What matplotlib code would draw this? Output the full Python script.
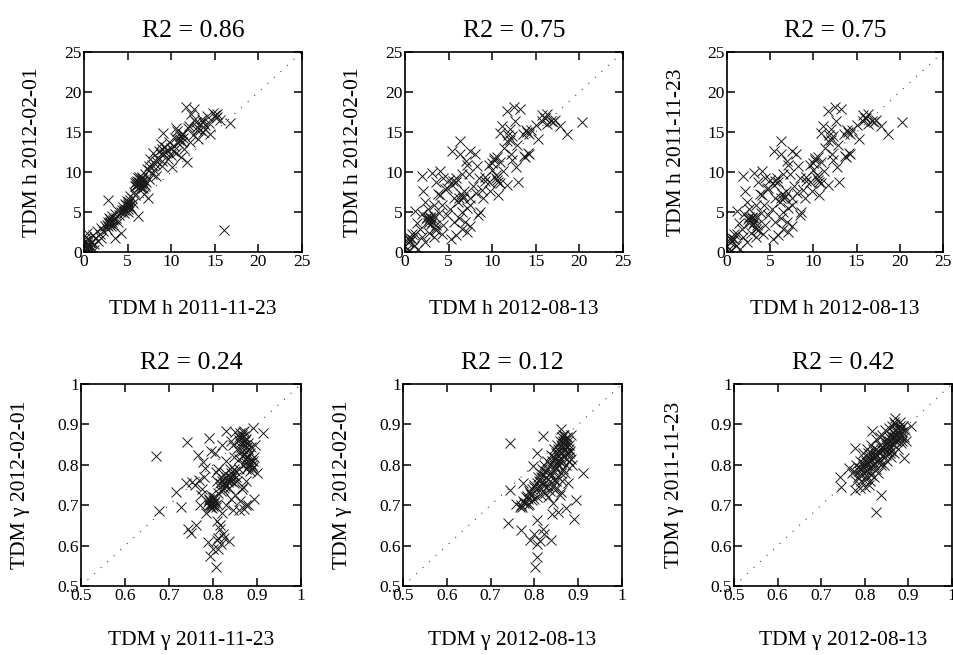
import numpy as np
import matplotlib
matplotlib.use("Agg")
import matplotlib.pyplot as plt

plt.rcParams['font.family'] = ['Liberation Serif', 'DejaVu Serif']

# TDM h : 2011-11-23 (x) vs 2012-02-01 (y)
h_nov_feb = [
    (0.1, 0.2), (0.2, 0.8), (0.3, 1.2), (0.4, 0.4), (0.5, 1.6), (0.6, 0.9), (0.2, 1.9), (0.8, 0.6),
    (0.9, 1.3), (1.0, 2.1), (0.7, 0.1), (1.2, 1.0), (1.3, 1.8), (1.5, 2.6), (1.1, 0.3), (0.3, 2.4),
    (1.6, 1.4), (1.8, 2.2), (2.0, 3.0), (1.9, 1.7), (2.2, 2.6), (2.4, 3.3), (2.6, 2.9), (2.7, 3.8),
    (2.8, 6.5), (2.9, 4.2), (3.0, 3.6), (3.1, 3.9), (3.2, 4.5), (3.3, 3.4), (3.4, 4.1), (3.5, 4.8),
    (3.6, 1.8), (3.7, 4.3), (3.8, 5.2), (3.9, 3.7), (4.0, 4.6), (4.2, 2.4), (4.3, 5.0), (4.5, 5.6),
    (4.6, 4.9), (4.7, 6.0), (4.8, 5.3), (4.9, 6.4), (5.0, 5.7), (5.1, 5.0), (5.2, 6.2), (5.3, 7.0),
    (5.4, 5.5), (5.5, 6.8), (5.6, 6.1), (5.7, 7.5), (5.8, 8.2), (5.9, 7.1), (6.0, 8.8), (6.1, 8.4),
    (6.2, 4.5), (6.2, 9.2), (6.3, 8.6), (6.4, 9.0), (6.5, 8.3), (6.6, 8.9), (6.7, 9.4), (6.8, 8.0),
    (6.9, 7.2), (7.0, 9.7), (7.1, 8.7), (7.2, 10.4), (7.3, 6.8), (7.4, 9.1), (7.5, 10.8), (7.6, 11.6),
    (7.8, 9.8), (7.9, 12.4), (8.0, 10.2), (8.1, 11.0), (8.3, 9.5), (8.4, 11.8), (8.6, 12.6), (8.8, 13.5),
    (8.9, 10.8), (9.0, 11.4), (9.1, 14.9), (9.2, 12.2), (9.3, 13.1), (9.5, 12.7), (9.6, 11.6), (9.8, 13.8),
    (10.0, 12.1), (10.1, 10.6), (10.3, 13.2), (10.4, 14.3), (10.6, 12.4), (10.7, 15.1), (10.8, 13.6),
    (11.0, 14.1), (11.1, 11.9), (11.2, 14.8), (11.3, 14.2), (11.5, 12.9), (11.7, 18.1), (11.8, 11.2),
    (11.9, 15.5), (12.1, 13.8), (12.3, 17.2), (12.5, 14.6), (12.6, 17.9), (12.8, 16.2), (13.0, 15.2),
    (13.1, 14.1), (13.3, 16.0), (13.5, 16.6), (13.7, 15.0), (13.9, 15.4), (14.1, 17.0), (14.3, 16.1),
    (14.5, 14.7), (14.8, 17.4), (15.1, 16.8), (15.2, 17.3), (15.6, 16.5), (16.1, 2.8), (16.7, 16.1),
    (12.0, 15.8), (10.5, 15.5), (6.3, 8.8), (6.5, 9.1), (6.6, 8.5), (6.4, 8.6), (6.7, 8.8), (6.1, 8.9),
    (5.0, 6.0), (5.1, 6.3), (4.9, 5.8), (3.0, 3.8), (3.2, 3.7), (2.9, 3.5),
    (6.2, 8.5), (6.4, 8.2), (6.6, 9.3), (6.8, 9.0), (6.0, 8.2), (6.9, 8.5), (5.9, 8.6), (6.5, 8.0),
    (7.0, 8.4), (6.3, 9.4), (4.8, 5.9), (5.0, 5.4), (5.2, 5.8), (4.6, 5.2), (5.3, 6.5), (4.4, 5.2),
    (2.8, 3.3), (3.1, 3.3), (3.3, 4.0), (2.6, 3.4), (3.0, 4.1), (0.2, 0.5), (0.4, 1.0), (0.1, 1.4),
    (0.6, 0.4), (0.3, 0.1), (0.8, 1.1), (0.5, 0.7), (11.0, 14.5), (11.2, 13.8), (11.3, 14.7),
    (10.9, 14.0), (13.0, 15.6), (13.3, 15.3), (13.6, 16.2), (15.0, 17.1), (15.3, 16.9), (12.6, 16.5),
    (13.9, 15.9), (8.8, 12.2), (9.3, 12.5), (9.0, 12.9), (7.8, 10.9), (8.2, 11.4), (7.5, 10.3),
    (10.0, 13.0), (10.2, 12.6),
]

# TDM h : 2012-08-13 (x) vs other date (y)
h_aug = [
    (20.3, 16.3), (18.6, 14.8), (17.2, 16.5), (15.7, 17.1), (16.3, 16.0), (17.8, 15.8), (15.3, 14.1),
    (14.0, 15.0), (14.2, 12.2), (13.0, 8.8), (12.5, 18.1), (13.2, 17.9), (11.7, 17.6), (12.6, 16.4),
    (11.1, 15.8), (10.9, 14.9), (11.7, 13.9), (12.8, 13.4), (12.1, 12.2), (10.2, 11.8), (10.9, 11.3),
    (9.6, 10.9), (10.5, 9.0), (10.9, 8.6), (11.7, 8.4), (10.7, 7.1), (9.0, 6.7), (8.6, 5.0), (9.6, 8.8),
    (8.0, 12.2), (7.5, 12.6), (6.3, 13.9), (5.4, 12.6), (6.3, 12.2), (7.1, 10.9), (6.5, 9.7), (5.9, 8.8),
    (5.4, 8.4), (4.4, 9.2), (4.0, 10.1), (1.9, 9.5), (3.1, 9.9), (3.6, 8.8), (5.6, 6.7), (6.1, 6.3),
    (7.5, 6.7), (7.5, 5.9), (8.4, 4.6), (7.1, 5.5), (6.5, 5.0), (4.8, 8.0), (4.0, 7.1), (2.1, 7.6),
    (2.3, 6.3), (3.3, 5.9), (4.8, 4.6), (4.4, 3.4), (5.6, 3.8), (6.5, 2.9), (7.5, 3.2), (7.1, 2.5),
    (5.9, 2.1), (2.9, 4.2), (3.1, 3.8), (2.5, 4.4), (3.5, 3.4), (1.7, 2.9), (1.1, 2.3), (0.6, 1.7),
    (1.0, 0.8), (1.5, 0.4), (0.4, 1.3), (2.3, 1.3), (3.3, 1.9), (3.6, 2.7), (1.9, 1.9), (0.2, 0.4),
    (0.8, 2.3), (12.0, 15.4), (13.5, 14.8), (14.5, 15.2), (16.0, 16.8), (16.8, 16.4), (15.0, 15.9),
    (11.4, 13.0), (12.3, 11.5), (13.6, 12.0), (10.0, 10.3), (10.4, 9.6), (9.2, 9.4), (8.5, 9.3),
    (8.8, 7.8), (8.1, 7.4), (7.8, 8.3), (6.8, 7.6), (6.6, 6.8), (7.3, 9.8), (5.0, 9.0), (4.6, 7.9),
    (3.8, 7.2), (2.6, 5.4), (2.0, 4.8), (1.4, 3.6), (3.9, 4.9), (4.2, 2.2), (6.2, 4.2), (5.2, 5.4),
    (9.8, 7.6), (11.2, 10.1), (12.7, 10.6), (8.2, 10.8), (7.0, 11.4), (4.3, 5.9), (1.2, 5.1),
    (0.5, 0.2), (2.8, 2.4), (3.4, 2.9), (5.3, 1.6), (6.9, 3.7),
    (2.7, 4.0), (2.9, 4.4), (3.2, 4.1), (2.6, 3.6), (3.0, 3.5), (2.4, 4.1), (3.3, 4.5), (0.6, 1.4),
    (0.8, 1.6), (0.4, 1.8), (10.2, 11.5), (10.5, 11.9), (10.0, 11.1), (12.0, 14.0), (12.3, 14.5),
    (11.8, 14.6), (14.2, 14.8), (13.9, 15.3), (13.8, 11.9), (14.1, 12.4), (10.4, 9.2), (10.7, 8.8),
    (6.4, 7.2), (6.7, 7.0), (6.2, 6.8), (9.2, 8.9), (5.5, 8.9), (5.8, 9.2), (16.1, 16.7), (16.3, 17.2),
    (15.7, 16.4), (17.0, 16.2),
]

# TDM gamma : 2011-11-23 (x) vs 2012-02-01 (y)
g_nov_feb = [
    (0.671, 0.823), (0.677, 0.685), (0.741, 0.856), (0.715, 0.732), (0.728, 0.696), (0.739, 0.754),
    (0.753, 0.758), (0.743, 0.642), (0.750, 0.632), (0.762, 0.650), (0.766, 0.825), (0.777, 0.808),
    (0.792, 0.867), (0.773, 0.725), (0.788, 0.608), (0.800, 0.592), (0.794, 0.575), (0.806, 0.548),
    (0.811, 0.592), (0.822, 0.629), (0.837, 0.612), (0.815, 0.650), (0.845, 0.688), (0.860, 0.688),
    (0.875, 0.700), (0.894, 0.715), (0.868, 0.746), (0.913, 0.879), (0.890, 0.892), (0.871, 0.883),
    (0.830, 0.883), (0.845, 0.850), (0.796, 0.833), (0.807, 0.783), (0.769, 0.763), (0.781, 0.792),
    (0.790, 0.700), (0.795, 0.705), (0.800, 0.698), (0.805, 0.710), (0.792, 0.715), (0.798, 0.692),
    (0.803, 0.720), (0.788, 0.708), (0.808, 0.702), (0.796, 0.725), (0.801, 0.712), (0.793, 0.695),
    (0.815, 0.745), (0.820, 0.760), (0.825, 0.752), (0.830, 0.770), (0.835, 0.765), (0.840, 0.780),
    (0.845, 0.775), (0.822, 0.738), (0.828, 0.748), (0.833, 0.758), (0.838, 0.790), (0.812, 0.730),
    (0.818, 0.770), (0.842, 0.760), (0.850, 0.785), (0.827, 0.780), (0.836, 0.742), (0.847, 0.755),
    (0.853, 0.770), (0.817, 0.755), (0.860, 0.870), (0.865, 0.875), (0.870, 0.860), (0.862, 0.855),
    (0.868, 0.880), (0.875, 0.865), (0.858, 0.862), (0.872, 0.850), (0.880, 0.840), (0.885, 0.830),
    (0.878, 0.820), (0.890, 0.810), (0.882, 0.800), (0.888, 0.790), (0.876, 0.805), (0.870, 0.825),
    (0.865, 0.835), (0.860, 0.815), (0.884, 0.785), (0.892, 0.795), (0.874, 0.790), (0.868, 0.800),
    (0.880, 0.855), (0.886, 0.845), (0.894, 0.820), (0.864, 0.845), (0.808, 0.760), (0.812, 0.790),
    (0.805, 0.830), (0.820, 0.850), (0.840, 0.860), (0.850, 0.880), (0.855, 0.840), (0.848, 0.820),
    (0.830, 0.810), (0.860, 0.790), (0.855, 0.760), (0.865, 0.740), (0.850, 0.725), (0.840, 0.715),
    (0.830, 0.700), (0.820, 0.680), (0.810, 0.660), (0.815, 0.640), (0.825, 0.620), (0.780, 0.770),
    (0.775, 0.740), (0.785, 0.680), (0.770, 0.700), (0.760, 0.750), (0.880, 0.700), (0.870, 0.690),
    (0.900, 0.780), (0.895, 0.850), (0.875, 0.760), (0.862, 0.710),
    (0.797, 0.703), (0.802, 0.706), (0.791, 0.712), (0.806, 0.696), (0.799, 0.718), (0.794, 0.701),
    (0.866, 0.868), (0.870, 0.872), (0.862, 0.878), (0.873, 0.858), (0.878, 0.845), (0.882, 0.825),
    (0.887, 0.812), (0.884, 0.805), (0.879, 0.795), (0.889, 0.800), (0.874, 0.815), (0.866, 0.822),
    (0.828, 0.756), (0.832, 0.762), (0.838, 0.770), (0.843, 0.768), (0.826, 0.742), (0.848, 0.790),
    (0.818, 0.735), (0.823, 0.765), (0.812, 0.620), (0.818, 0.605), (0.808, 0.615),
]

# TDM gamma : 2012-08-13 (x) vs 2012-02-01 (y)
g_aug_feb = [
    (0.745, 0.854), (0.745, 0.738), (0.757, 0.704), (0.739, 0.657), (0.770, 0.638), (0.791, 0.613),
    (0.799, 0.629), (0.807, 0.571), (0.802, 0.546), (0.819, 0.642), (0.823, 0.629), (0.838, 0.613),
    (0.807, 0.663), (0.819, 0.871), (0.860, 0.888), (0.884, 0.875), (0.911, 0.779), (0.896, 0.713),
    (0.890, 0.667), (0.873, 0.692), (0.853, 0.683), (0.841, 0.679), (0.861, 0.733), (0.876, 0.754),
    (0.796, 0.796), (0.807, 0.829), (0.774, 0.754), (0.767, 0.696),
    (0.770, 0.700), (0.775, 0.710), (0.780, 0.720), (0.785, 0.715), (0.790, 0.730), (0.795, 0.740),
    (0.800, 0.745), (0.805, 0.755), (0.810, 0.760), (0.815, 0.770), (0.820, 0.775), (0.825, 0.785),
    (0.830, 0.790), (0.835, 0.800), (0.840, 0.810), (0.845, 0.820), (0.850, 0.830), (0.855, 0.840),
    (0.860, 0.850), (0.865, 0.860), (0.870, 0.865), (0.875, 0.870), (0.870, 0.840), (0.875, 0.830),
    (0.880, 0.820), (0.878, 0.810), (0.872, 0.800), (0.865, 0.790), (0.860, 0.780), (0.855, 0.770),
    (0.850, 0.760), (0.845, 0.750), (0.840, 0.745), (0.835, 0.735), (0.825, 0.730), (0.815, 0.725),
    (0.805, 0.720), (0.800, 0.715), (0.810, 0.745), (0.820, 0.750), (0.830, 0.765), (0.840, 0.775),
    (0.850, 0.790), (0.860, 0.805), (0.868, 0.820), (0.880, 0.850), (0.882, 0.835), (0.876, 0.860),
    (0.866, 0.875), (0.862, 0.870), (0.858, 0.860), (0.852, 0.850), (0.845, 0.840), (0.838, 0.825),
    (0.828, 0.810), (0.822, 0.800), (0.818, 0.790), (0.812, 0.780), (0.808, 0.770), (0.798, 0.750),
    (0.788, 0.735), (0.780, 0.705), (0.772, 0.695), (0.785, 0.700), (0.795, 0.712), (0.815, 0.740),
    (0.835, 0.760), (0.855, 0.800), (0.874, 0.845), (0.884, 0.815), (0.886, 0.800), (0.870, 0.780),
    (0.862, 0.760), (0.850, 0.740), (0.830, 0.720), (0.843, 0.705), (0.858, 0.725),
    (0.853, 0.825), (0.857, 0.835), (0.848, 0.815), (0.862, 0.845), (0.866, 0.855), (0.871, 0.858),
    (0.873, 0.848), (0.868, 0.838), (0.863, 0.828), (0.858, 0.818), (0.852, 0.805), (0.847, 0.798),
    (0.842, 0.788), (0.836, 0.778), (0.826, 0.770), (0.818, 0.758), (0.806, 0.742), (0.792, 0.725),
    (0.784, 0.722), (0.776, 0.705), (0.868, 0.875), (0.878, 0.838), (0.880, 0.828), (0.856, 0.812),
    (0.844, 0.762), (0.832, 0.748), (0.826, 0.745), (0.787, 0.703), (0.812, 0.612), (0.805, 0.604),
]

# TDM gamma : 2012-08-13 (x) vs 2011-11-23 (y)
g_aug_nov = [
    (0.825, 0.684), (0.838, 0.725), (0.746, 0.746), (0.742, 0.771), (0.777, 0.738), (0.790, 0.742),
    (0.763, 0.792), (0.778, 0.842), (0.817, 0.883), (0.869, 0.917), (0.905, 0.896), (0.890, 0.817),
    (0.886, 0.858),
    (0.775, 0.785), (0.780, 0.800), (0.785, 0.795), (0.790, 0.810), (0.795, 0.805), (0.800, 0.815),
    (0.805, 0.800), (0.810, 0.820), (0.815, 0.830), (0.820, 0.825), (0.825, 0.840), (0.830, 0.835),
    (0.835, 0.850), (0.840, 0.845), (0.845, 0.860), (0.850, 0.855), (0.855, 0.870), (0.860, 0.865),
    (0.865, 0.880), (0.870, 0.875), (0.875, 0.890), (0.880, 0.885), (0.885, 0.880), (0.878, 0.870),
    (0.872, 0.860), (0.866, 0.850), (0.858, 0.845), (0.850, 0.835), (0.842, 0.825), (0.835, 0.815),
    (0.828, 0.810), (0.820, 0.800), (0.812, 0.795), (0.805, 0.785), (0.798, 0.780), (0.790, 0.775),
    (0.795, 0.830), (0.805, 0.840), (0.815, 0.850), (0.825, 0.865), (0.840, 0.875), (0.855, 0.890),
    (0.862, 0.895), (0.870, 0.900), (0.880, 0.905), (0.888, 0.895), (0.890, 0.870), (0.882, 0.855),
    (0.876, 0.840), (0.868, 0.830), (0.860, 0.820), (0.850, 0.810), (0.838, 0.800), (0.826, 0.790),
    (0.815, 0.775), (0.802, 0.765), (0.792, 0.760), (0.785, 0.770), (0.800, 0.800), (0.810, 0.810),
    (0.822, 0.818), (0.832, 0.828), (0.845, 0.840), (0.855, 0.850), (0.865, 0.865), (0.874, 0.878),
    (0.884, 0.892), (0.846, 0.885), (0.836, 0.870), (0.818, 0.840), (0.808, 0.828), (0.812, 0.760),
    (0.820, 0.770), (0.830, 0.780), (0.845, 0.800), (0.860, 0.835), (0.868, 0.905), (0.892, 0.885),
    (0.895, 0.860), (0.770, 0.780), (0.780, 0.760), (0.800, 0.745), (0.810, 0.750), (0.795, 0.790),
    (0.804, 0.772),
    (0.838, 0.838), (0.842, 0.842), (0.848, 0.848), (0.852, 0.860), (0.856, 0.858), (0.862, 0.872),
    (0.866, 0.870), (0.872, 0.885), (0.876, 0.882), (0.880, 0.895), (0.828, 0.822), (0.824, 0.828),
    (0.818, 0.818), (0.814, 0.812), (0.808, 0.805), (0.802, 0.808), (0.796, 0.798), (0.790, 0.792),
    (0.786, 0.785), (0.852, 0.842), (0.862, 0.855), (0.870, 0.868), (0.878, 0.878), (0.884, 0.870),
    (0.874, 0.865), (0.858, 0.830), (0.848, 0.825), (0.834, 0.808), (0.822, 0.805), (0.812, 0.785),
]

r2_values = [0.86, 0.75, 0.75, 0.24, 0.12, 0.42]
x_labels = ['TDM h 2011-11-23', 'TDM h 2012-08-13', 'TDM h 2012-08-13',
            'TDM γ 2011-11-23', 'TDM γ 2012-08-13', 'TDM γ 2012-08-13']
y_labels = ['TDM h 2012-02-01', 'TDM h 2012-02-01', 'TDM h 2011-11-23',
            'TDM γ 2012-02-01', 'TDM γ 2012-02-01', 'TDM γ 2011-11-23']
panels = [h_nov_feb, h_aug, h_aug, g_nov_feb, g_aug_feb, g_aug_nov]

h_ticks = [0, 5, 10, 15, 20, 25]
g_ticks = [0.5, 0.6, 0.7, 0.8, 0.9, 1]
g_ticklabels = ['0.5', '0.6', '0.7', '0.8', '0.9', '1']

W, H = 954, 655
fig = plt.figure(figsize=(W / 100, H / 100), dpi=100)

# pixel boxes (left, top, width, height)
boxes = [(84, 52, 218, 200), (405, 52, 218, 200), (727, 52, 216, 200),
         (81, 384, 220, 202), (403, 384, 219, 202), (734, 384, 218, 202)]

for i, (l, t, w, h) in enumerate(boxes):
    ax = fig.add_axes([l / W, 1 - (t + h) / H, w / W, h / H])
    pts = np.array(panels[i])
    if i < 3:
        lo, hi, ticks, tlabels = 0, 25, h_ticks, [str(v) for v in h_ticks]
    else:
        lo, hi, ticks, tlabels = 0.5, 1, g_ticks, g_ticklabels

    ax.plot([lo, hi], [lo, hi], color='#444444', lw=0.8, ls=(0, (1, 7)), zorder=1)
    ax.plot(pts[:, 0], pts[:, 1], 'x', color='#1a1a1a', ms=7.8, mew=0.7, zorder=2)

    ax.set_xlim(lo, hi)
    ax.set_ylim(lo, hi)
    ax.set_xticks(ticks)
    ax.set_yticks(ticks)
    ax.set_xticklabels(tlabels)
    ax.set_yticklabels(tlabels)
    ax.tick_params(direction='in', top=True, right=True, length=6, width=1.1,
                   labelsize=12.5, pad=1.5)
    for sp in ax.spines.values():
        sp.set_linewidth(1.2)

    ax.set_title('R2 = %.2f' % r2_values[i], fontsize=18.5, pad=11)
    ax.set_xlabel(x_labels[i], fontsize=15.5, va='center')
    ax.set_ylabel(y_labels[i], fontsize=15.5, va='center')
    if i < 3:
        ax.xaxis.set_label_coords(0.5, -0.29)
        ax.yaxis.set_label_coords(-0.235, 0.5)
    else:
        ax.xaxis.set_label_coords(0.5, -0.27)
        ax.yaxis.set_label_coords(-0.275, 0.5)

fig.savefig('out.png', dpi=100)
